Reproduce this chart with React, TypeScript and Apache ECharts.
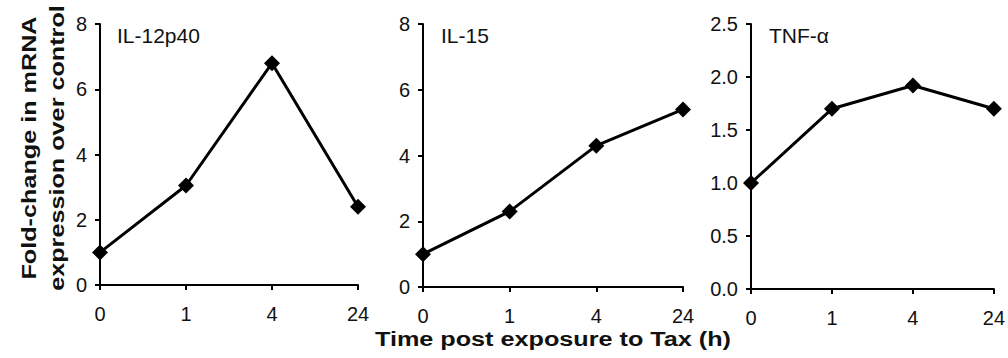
import React, { useEffect, useRef } from "react";
import * as echarts from "echarts";

const timeLabels = ["0", "1", "4", "24"];
const il12Values = [1.0, 3.05, 6.8, 2.4];
const il15Values = [1.0, 2.3, 4.3, 5.4];
const tnfValues = [1.0, 1.7, 1.92, 1.7];
const panelTitles = ["IL-12p40", "IL-15", "TNF-α"];
const yTitle = "Fold-change in mRNA\nexpression over control";
const xTitle = "Time post exposure to Tax (h)";

const FONT = "Liberation Sans, Arial, sans-serif";

export default function App() {
  const ref = useRef<HTMLDivElement>(null);
  useEffect(() => {
    if (!ref.current) return;
    const chart = echarts.init(ref.current, null, { renderer: "svg" });
    const grids = [
      { left: 100, top: 24, width: 258, height: 261 },
      { left: 423, top: 24, width: 260, height: 263 },
      { left: 751, top: 24, width: 246, height: 265 },
    ];
    const yCfg = [
      { min: 0, max: 8, interval: 2, fmt: (v: number) => String(v) },
      { min: 0, max: 8, interval: 2, fmt: (v: number) => String(v) },
      { min: 0, max: 2.5, interval: 0.5, fmt: (v: number) => v.toFixed(1) },
    ];
    const data = [il12Values, il15Values, tnfValues];
    const axisLine = { show: true, lineStyle: { color: "#000", width: 2 } };
    const axisTick = { show: true, length: 5, lineStyle: { color: "#000", width: 2 } };
    const titlePos = [
      { left: 117, top: 25 },
      { left: 441, top: 25 },
      { left: 769, top: 25 },
    ];
    chart.setOption({
      animation: false,
      backgroundColor: "#fff",
      grid: grids.map((g) => ({ ...g, containLabel: false })),
      xAxis: grids.map((_, i) => ({
        type: "category",
        gridIndex: i,
        data: timeLabels,
        boundaryGap: false,
        axisLine,
        axisTick: { ...axisTick, alignWithLabel: true },
        axisLabel: { color: "#111", fontSize: 20, fontFamily: FONT, margin: 19 },
        splitLine: { show: false },
      })),
      yAxis: yCfg.map((c, i) => ({
        type: "value",
        gridIndex: i,
        min: c.min,
        max: c.max,
        interval: c.interval,
        axisLine,
        axisTick,
        axisLabel: { color: "#111", fontSize: 20, fontFamily: FONT, margin: 13, formatter: c.fmt },
        splitLine: { show: false },
      })),
      series: data.map((d, i) => ({
        type: "line",
        xAxisIndex: i,
        yAxisIndex: i,
        data: d,
        symbol: "diamond",
        symbolSize: 16,
        lineStyle: { color: "#000", width: 3 },
        itemStyle: { color: "#000" },
      })),
      graphic: [
        ...panelTitles.map((t, i) => ({
          type: "text",
          left: titlePos[i].left,
          top: titlePos[i].top,
          style: { text: t, fontSize: 21, fontFamily: FONT, fill: "#111" },
        })),
        {
          type: "text",
          x: 43,
          y: 148,
          rotation: Math.PI / 2,
          scaleX: 1.2,
          style: {
            text: yTitle,
            fontSize: 21,
            fontWeight: "bold",
            fontFamily: FONT,
            fill: "#111",
            align: "center",
            verticalAlign: "middle",
            lineHeight: 28,
          },
        },
        {
          type: "text",
          x: 553,
          y: 339,
          scaleX: 1.2,
          style: {
            text: xTitle,
            fontSize: 21,
            fontWeight: "bold",
            fontFamily: FONT,
            fill: "#111",
            align: "center",
            verticalAlign: "middle",
          },
        },
      ],
    });
    return () => chart.dispose();
  }, []);
  return (
    <div style={{ position: "fixed", left: 0, top: 0 }}>
      <div ref={ref} style={{ width: 1008, height: 358 }} />
    </div>
  );
}
